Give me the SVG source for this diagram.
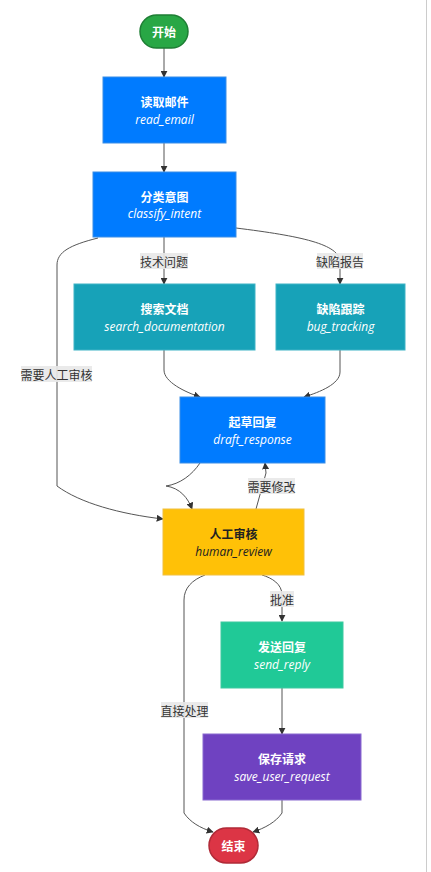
<svg xmlns="http://www.w3.org/2000/svg" width="431" height="872" viewBox="0 0 431 872">
<style>
.t{font-family:"Noto Sans CJK SC","Noto Sans",sans-serif;font-size:12px;font-weight:bold;fill:#fff;text-anchor:middle;dominant-baseline:central}
.s{font-family:"Open Sans","Noto Sans",sans-serif;font-size:12px;font-style:italic;fill:#fff;text-anchor:middle;dominant-baseline:central}
.dk{fill:#222}
.e{fill:none;stroke:#555;stroke-width:1;marker-end:url(#arr)}
.lb{fill:#e8e8e8;opacity:0.9}
.lt{font-family:"Noto Sans CJK SC",sans-serif;font-size:12px;fill:#333;text-anchor:middle;dominant-baseline:central}
</style>
<defs>
<marker id="arr" viewBox="0 0 10 10" refX="9" refY="5" markerWidth="7" markerHeight="7" orient="auto-start-reverse" markerUnits="userSpaceOnUse">
<path d="M0,0 L10,5 L0,10 z" fill="#333"/>
</marker>
</defs>
<rect width="431" height="872" fill="#fff"/>
<line x1="426.5" y1="0" x2="426.5" y2="872" stroke="#ccc" stroke-width="1"/>
<g id="connectors">
<path class="e" d="M164,48 L164,77"/>
<path class="e" d="M164,143 L164,172"/>
<path class="e" d="M164,237 L164,284"/>
<path class="e" d="M236,228 C300,236 340,244 340,262 L340,284"/>
<path class="e" d="M98,238 C70,245 57,252 57,265 L57,486 C80,503 120,514 163,519"/>
<path class="e" d="M164,350 L164,370 C164,382 185,392 200,397"/>
<path class="e" d="M340,350 L340,372 C340,384 320,392 304,397"/>
<path class="e" d="M200,463 C192,475 180,484 166,486 C180,488 188,498 192,509"/>
<path class="e" d="M256,509 L266,473 L265,463"/>
<path class="e" d="M262,575 C272,578 282,584 282,595 L282,621"/>
<path class="e" d="M205,575 C192,580 184,588 184,600 L184,813 C190,822 200,828 213,832"/>
<path class="e" d="M282,688 L282,734"/>
<path class="e" d="M282,800 L282,813 C276,822 265,828 253,832"/>
<rect class="lb" x="140" y="253" width="48" height="16"/>
<text class="lt" x="164" y="261">技术问题</text>
<rect class="lb" x="317" y="253" width="46" height="16"/>
<text class="lt" x="340" y="261">缺陷报告</text>
<rect class="lb" x="21" y="366" width="71" height="16"/>
<text class="lt" x="56.5" y="374">需要人工审核</text>
<rect class="lb" x="248" y="478" width="47" height="16"/>
<text class="lt" x="271.5" y="486">需要修改</text>
<rect class="lb" x="270" y="591" width="24" height="16"/>
<text class="lt" x="282" y="599">批准</text>
<rect class="lb" x="161" y="702" width="47" height="16"/>
<text class="lt" x="184.5" y="710">直接处理</text>
</g>
<g id="start">
<rect x="140" y="15" width="48" height="33" rx="16.5" fill="#28a745" stroke="#1e7e34" stroke-width="1.5"/>
<text class="t" x="164" y="31.5">开始</text>
</g>
<g id="read_email">
<rect x="103" y="77" width="123" height="66" fill="#007bff" stroke="#3a8ee6" stroke-width="1"/>
<text class="t" x="164.5" y="101">读取邮件</text>
<text class="s" x="164.5" y="119">read_email</text>
</g>
<g id="classify_intent">
<rect x="93" y="172" width="143" height="65" fill="#007bff" stroke="#3a8ee6" stroke-width="1"/>
<text class="t" x="164.5" y="196">分类意图</text>
<text class="s" x="164.5" y="213.5">classify_intent</text>
</g>
<g id="search_documentation">
<rect x="74" y="284" width="181" height="66" fill="#17a2b8" stroke="#3fb3c6" stroke-width="1"/>
<text class="t" x="164.5" y="308">搜索文档</text>
<text class="s" x="164.5" y="326">search_documentation</text>
</g>
<g id="bug_tracking">
<rect x="276" y="284" width="129" height="66" fill="#17a2b8" stroke="#3fb3c6" stroke-width="1"/>
<text class="t" x="340.5" y="308">缺陷跟踪</text>
<text class="s" x="340.5" y="326">bug_tracking</text>
</g>
<g id="draft_response">
<rect x="180" y="397" width="145" height="66" fill="#007bff" stroke="#3a8ee6" stroke-width="1"/>
<text class="t" x="252.5" y="421">起草回复</text>
<text class="s" x="252.5" y="439">draft_response</text>
</g>
<g id="human_review">
<rect x="163" y="509" width="141" height="66" fill="#ffc107" stroke="#f0c040" stroke-width="1"/>
<text class="t dk" x="233.5" y="533">人工审核</text>
<text class="s dk" x="233.5" y="551">human_review</text>
</g>
<g id="send_reply">
<rect x="221" y="622" width="122" height="66" fill="#20c997" stroke="#3cc9a0" stroke-width="1"/>
<text class="t" x="282" y="646">发送回复</text>
<text class="s" x="282" y="664">send_reply</text>
</g>
<g id="save_user_request">
<rect x="203" y="734" width="158" height="66" fill="#6f42c1" stroke="#8a6ad0" stroke-width="1"/>
<text class="t" x="282" y="758">保存请求</text>
<text class="s" x="282" y="776">save_user_request</text>
</g>
<g id="end">
<rect x="209" y="828" width="49" height="35" rx="17.5" fill="#dc3545" stroke="#b02a37" stroke-width="1.5"/>
<text class="t" x="233.5" y="845.5">结束</text>
</g>
</svg>
